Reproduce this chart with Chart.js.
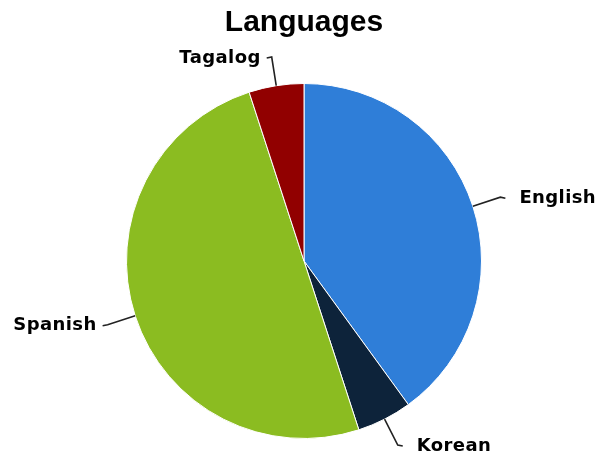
<!DOCTYPE html>
<html>
<head>
<meta charset="utf-8">
<script src="https://cdn.jsdelivr.net/npm/chart.js@4"></script>
<style>
  html, body { margin: 0; padding: 0; background: #fff; }
  #wrap { width: 607px; height: 454px; }
</style>
</head>
<body>
<div id="wrap"><canvas id="chart" width="607" height="454"></canvas></div>
<script>
// Datos (porcentajes aproximados)
const languages = ["English", "Korean", "Spanish", "Tagalog"];
const shares = [40, 5, 50, 5];
const sliceColors = ["#2f7ed8", "#0d233a", "#8bbc21", "#910000"];

// Etiquetas externas con línea guía
const outsideLabels = {
  id: "outsideLabels",
  afterDatasetsDraw(chart) {
    const ctx = chart.ctx;
    const meta = chart.getDatasetMeta(0);
    ctx.save();
    ctx.strokeStyle = "#222";
    ctx.lineWidth = 1.6;
    ctx.fillStyle = "#000";
    ctx.font = "bold 18px 'DejaVu Sans'";
    ctx.letterSpacing = "0.4px";
    ctx.textBaseline = "middle";
    meta.data.forEach((arc, i) => {
      const {x, y, outerRadius, startAngle, endAngle} = arc.getProps(["x", "y", "outerRadius", "startAngle", "endAngle"], true);
      const mid = (startAngle + endAngle) / 2;
      const cos = Math.cos(mid), sin = Math.sin(mid);
      const right = cos >= 0;
      const p1 = [x + outerRadius * cos, y + outerRadius * sin];
      const p2 = [x + (outerRadius + 29) * cos, y + (outerRadius + 29) * sin];
      const p3 = [p2[0] + (right ? 5 : -5), p2[1] + 1];
      ctx.beginPath();
      ctx.moveTo(p1[0], p1[1]);
      ctx.lineTo(p2[0], p2[1]);
      ctx.lineTo(p3[0], p3[1]);
      ctx.stroke();
      ctx.textAlign = right ? "left" : "right";
      ctx.fillText(languages[i], p3[0] + (right ? 14 : -6), p3[1]);
    });
    ctx.restore();
  }
};

new Chart(document.getElementById("chart"), {
  type: "pie",
  data: {
    labels: languages,
    datasets: [{
      data: shares,
      backgroundColor: sliceColors,
      borderColor: "#fff",
      borderWidth: 1
    }]
  },
  options: {
    responsive: false,
    animation: false,
    layout: {padding: {top: 0, bottom: 15, left: 126, right: 125}},
    plugins: {
      legend: {display: false},
      tooltip: {enabled: false},
      title: {
        display: true,
        text: "Languages",
        color: "#000",
        font: {family: "'Liberation Sans', Arial, sans-serif", size: 30, weight: "bold", lineHeight: 1.2},
        padding: {top: 5, bottom: 42}
      }
    }
  },
  plugins: [outsideLabels]
});
</script>
</body>
</html>
